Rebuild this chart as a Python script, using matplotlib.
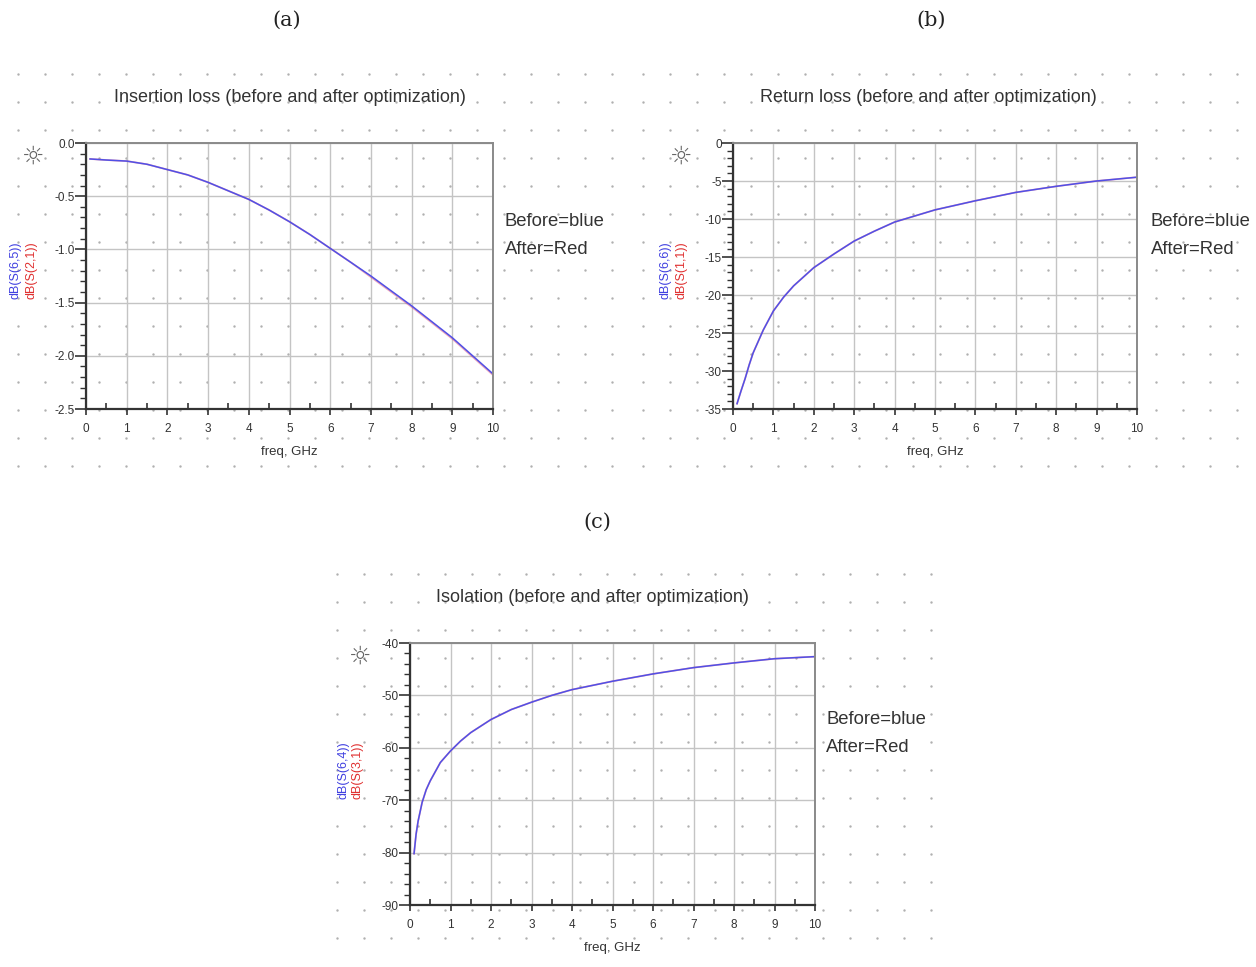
import numpy as np
import matplotlib.pyplot as plt
from matplotlib.ticker import MultipleLocator, FormatStrFormatter

# ---- data ----
freq_il = [0.1, 0.5, 1, 1.5, 2, 2.5, 3, 3.5, 4, 4.5, 5, 5.5, 6, 6.5, 7, 7.5, 8, 8.5, 9, 9.5, 10]
il_before = [-0.15, -0.16, -0.17, -0.20, -0.25, -0.30, -0.37, -0.45, -0.53, -0.63, -0.74,
             -0.86, -0.99, -1.12, -1.25, -1.39, -1.53, -1.68, -1.83, -2.00, -2.17]
il_after = [-0.15, -0.16, -0.17, -0.20, -0.25, -0.30, -0.37, -0.45, -0.53, -0.63, -0.74,
            -0.86, -0.99, -1.12, -1.26, -1.40, -1.54, -1.69, -1.84, -2.01, -2.18]

freq_rl = [0.1, 0.2, 0.3, 0.4, 0.5, 0.75, 1, 1.25, 1.5, 2, 2.5, 3, 3.5, 4, 4.5, 5, 6, 7, 8, 9, 10]
rl_before = [-34.3, -32.6, -31.0, -29.2, -27.6, -24.6, -22.1, -20.3, -18.8, -16.4, -14.6, -12.9,
             -11.6, -10.4, -9.6, -8.8, -7.6, -6.5, -5.7, -5.0, -4.5]
rl_after = list(rl_before)

freq_iso = [0.1, 0.15, 0.2, 0.3, 0.4, 0.5, 0.75, 1, 1.25, 1.5, 2, 2.5, 3, 3.5, 4, 5, 6, 7, 8, 9, 10]
iso_before = [-80.2, -76.5, -74.0, -70.4, -68.0, -66.3, -62.8, -60.6, -58.7, -57.1, -54.6, -52.7,
              -51.3, -50.0, -48.9, -47.3, -45.9, -44.7, -43.8, -43.0, -42.6]
iso_after = list(iso_before)

W, H = 1256, 967
fig = plt.figure(figsize=(W / 100, H / 100), dpi=100)
plt.rcParams['font.family'] = ['Liberation Sans', 'DejaVu Sans']

# background with the dotted "data display" lattice
bg = fig.add_axes([0, 0, 1, 1], zorder=-5)
bg.set_xlim(0, W)
bg.set_ylim(H, 0)
bg.axis('off')
for x0, x1, y0, y1 in [(18, 615, 74, 468), (643, 1254, 74, 468), (337, 935, 574, 965)]:
    xs = np.arange(x0, x1, 27.0)
    ys = np.arange(y0, y1, 28.0)
    gx, gy = np.meshgrid(xs, ys)
    bg.scatter(gx.ravel(), gy.ravel(), s=3, color='#b0b0b0', lw=0)


def px_axes(l, t, r, b):
    return fig.add_axes([l / W, 1 - b / H, (r - l) / W, (b - t) / H])


panels = [
    dict(box=(86, 143, 493, 409), x=freq_il, before=il_before, after=il_after,
         ylim=(-2.5, 0.0), ystep=0.5, yminor=0.1, fmt='%.1f',
         title='Insertion loss (before and after optimization)', tpos=(290, 97),
         lab=('dB(S(6,5))', 'dB(S(2,1))'), labx=(16, 31), laby=270,
         note=(505, 222), sun=(33, 157), letter=('(a)', 287, 20)),
    dict(box=(733, 143, 1137, 409), x=freq_rl, before=rl_before, after=rl_after,
         ylim=(-35, 0), ystep=5, yminor=1, fmt='%d',
         title='Return loss (before and after optimization)', tpos=(928, 97),
         lab=('dB(S(6,6))', 'dB(S(1,1))'), labx=(665, 681), laby=270,
         note=(1151, 222), sun=(681, 157), letter=('(b)', 931, 20)),
    dict(box=(410, 643, 815, 905), x=freq_iso, before=iso_before, after=iso_after,
         ylim=(-90, -40), ystep=10, yminor=2, fmt='%d',
         title='Isolation (before and after optimization)', tpos=(592, 597),
         lab=('dB(S(6,4))', 'dB(S(3,1))'), labx=(343, 358), laby=770,
         note=(826, 720), sun=(360, 657), letter=('(c)', 597, 522)),
]

for p in panels:
    ax = px_axes(*p['box'])
    ax.set_facecolor('none')
    ax.plot(p['x'], p['after'], color='#d83a6a', lw=1.3, alpha=0.45)
    ax.plot(p['x'], p['before'], color='#5050e6', lw=1.1)
    ax.set_xlim(0, 10)
    ax.set_ylim(*p['ylim'])
    ax.xaxis.set_major_locator(MultipleLocator(1))
    ax.xaxis.set_minor_locator(MultipleLocator(0.5))
    ax.yaxis.set_major_locator(MultipleLocator(p['ystep']))
    ax.yaxis.set_minor_locator(MultipleLocator(p['yminor']))
    ax.yaxis.set_major_formatter(FormatStrFormatter(p['fmt']))
    ax.grid(True, which='major', color='#c4c4c4', lw=1.0)
    ax.tick_params(axis='x', which='major', direction='out', length=4, width=1.2,
                   labelsize=8.5, pad=6, colors='#333333')
    ax.tick_params(axis='x', which='minor', direction='in', length=4, width=1.2, colors='#333333')
    ax.tick_params(axis='y', which='major', direction='out', length=8, width=1.2,
                   labelsize=8.5, pad=0, colors='#333333')
    ax.tick_params(axis='y', which='minor', direction='out', length=4, width=1.0, colors='#333333')
    for s in ['left', 'bottom']:
        ax.spines[s].set_color('#333333')
        ax.spines[s].set_linewidth(1.6)
    for s in ['top', 'right']:
        ax.spines[s].set_color('#8a8a8a')
        ax.spines[s].set_linewidth(1.4)
    ax.set_xlabel('freq, GHz', fontsize=9.5, color='#333333', labelpad=8)

    fig.text(p['tpos'][0] / W, 1 - p['tpos'][1] / H, p['title'], ha='center', va='center',
             fontsize=13, color='#333333')
    fig.text(p['labx'][0] / W, 1 - p['laby'] / H, p['lab'][0], rotation=90, ha='center',
             va='center', fontsize=9, color='#4040e0')
    fig.text(p['labx'][1] / W, 1 - p['laby'] / H, p['lab'][1], rotation=90, ha='center',
             va='center', fontsize=9, color='#e03030')
    fig.text(p['note'][0] / W, 1 - p['note'][1] / H, 'Before=blue', ha='left', va='center',
             fontsize=13.3, color='#333333')
    fig.text(p['note'][0] / W, 1 - (p['note'][1] + 28) / H, 'After=Red', ha='left', va='center',
             fontsize=13.3, color='#333333')
    fig.text(p['sun'][0] / W, 1 - p['sun'][1] / H, '\u263c', ha='center', va='center',
             fontsize=18, color='#666666', family='DejaVu Sans')
    l, lx, ly = p['letter']
    fig.text(lx / W, 1 - ly / H, l, ha='center', va='center', fontsize=15,
             family='DejaVu Serif', color='#222222')

fig.savefig('out.png', dpi=100)
